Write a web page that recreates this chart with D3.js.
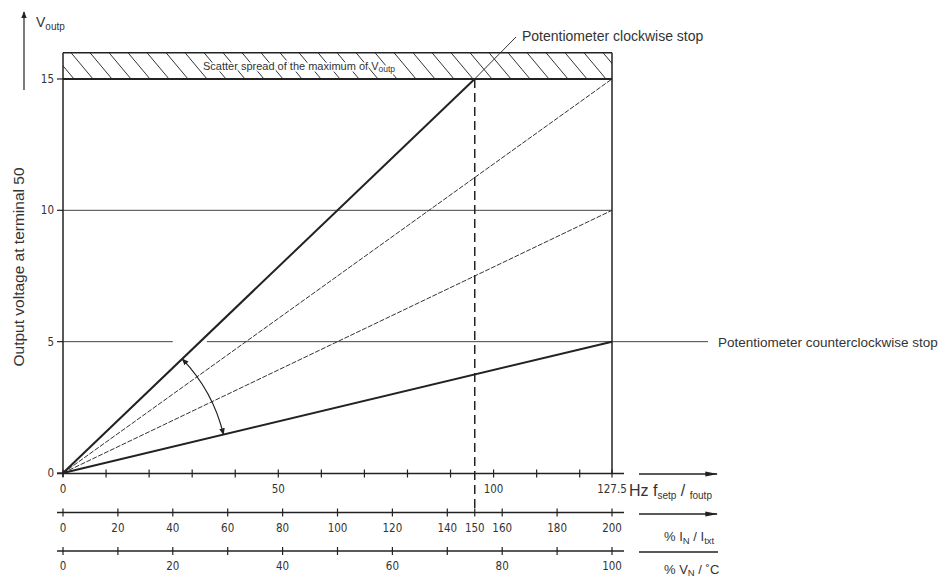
<!DOCTYPE html>
<html>
<head>
<meta charset="utf-8">
<script src="https://cdn.jsdelivr.net/npm/d3@7"></script>
<style>
  body { margin: 0; background: #fff; }
  svg { display: block; }
  .tick-label { font-family: "Liberation Sans Narrow", "DejaVu Sans Condensed", sans-serif; font-size: 11.5px; fill: #333; }
  .note { font-family: "Liberation Sans", Arial, sans-serif; fill: #333; }
</style>
</head>
<body>
<script>
// tick values
const hzTicks = [0, 10, 20, 30, 40, 50, 60, 70, 80, 90, 100, 110, 120, 127.5];
const hzLabels = [0, 50, 100, 127.5];
const curTicks = [0, 20, 40, 60, 80, 100, 120, 140, 150, 160, 180, 200];
const volTicks = [0, 10, 20, 30, 40, 50, 60, 70, 80, 90, 100];
const volLabels = [0, 20, 40, 60, 80, 100];
const yTicks = [0, 5, 10, 15];
const yGrid = [10];

// characteristic lines [Hz, V]
const cwStop = [[0, 0], [95.6, 15]];
const mid15 = [[0, 0], [127.5, 15]];
const mid10 = [[0, 0], [127.5, 10]];
const ccwStop = [[0, 0], [127.5, 5]];
const scatterBand = [15, 16];
const limitCurrent = 150;  // % I_N at dashed line
const gap5 = [25.5, 33.4]; // gap in 5 V line (Hz)

const width = 948, height = 579;
const x0 = 63, x1 = 612;

const x = d3.scaleLinear().domain([0, 127.5]).range([x0, x1]);
const xI = d3.scaleLinear().domain([0, 200]).range([x0, x1]);
const xV = d3.scaleLinear().domain([0, 100]).range([x0, x1]);
const y = d3.scaleLinear().domain([0, 16]).range([473, 52.7]);

const svg = d3.select('body').append('svg')
  .attr('width', width)
  .attr('height', height);

const defs = svg.append('defs');
defs.append('marker')
  .attr('id', 'head')
  .attr('viewBox', '0 0 10 10')
  .attr('refX', 9).attr('refY', 5)
  .attr('markerWidth', 7).attr('markerHeight', 7)
  .attr('markerUnits', 'userSpaceOnUse')
  .attr('orient', 'auto-start-reverse')
  .append('path').attr('d', 'M0,1 L10,5 L0,9 Z').attr('fill', '#222');
defs.append('marker')
  .attr('id', 'bighead')
  .attr('viewBox', '0 0 10 10')
  .attr('refX', 9).attr('refY', 5)
  .attr('markerWidth', 13).attr('markerHeight', 13)
  .attr('markerUnits', 'userSpaceOnUse')
  .attr('orient', 'auto')
  .append('path').attr('d', 'M0,3 L10,5 L0,7 Z').attr('fill', '#222');
defs.append('clipPath').attr('id', 'bandclip')
  .append('rect')
  .attr('x', x(0)).attr('y', y(scatterBand[1]))
  .attr('width', x(127.5) - x(0))
  .attr('height', y(scatterBand[0]) - y(scatterBand[1]));

const ink = '#222';

// scatter band hatching
const hatch = svg.append('g').attr('clip-path', 'url(#bandclip)');
hatch.selectAll('line')
  .data(d3.range(x(0) - 30, x(127.5) + 10, 19))
  .enter().append('line')
  .attr('x1', d => d).attr('y1', y(scatterBand[1]))
  .attr('x2', d => d + 22).attr('y2', y(scatterBand[0]))
  .attr('stroke', '#333').attr('stroke-width', 1);

svg.append('text')
  .attr('class', 'note')
  .attr('x', 203).attr('y', 70)
  .attr('font-size', 11)
  .attr('stroke', '#fff').attr('stroke-width', 3).attr('paint-order', 'stroke')
  .text('Scatter spread of the maximum of V')
  .append('tspan').attr('font-size', 8.5).attr('dy', 2).text('outp');

// band borders
svg.append('line')
  .attr('x1', x(0)).attr('x2', x(127.5))
  .attr('y1', y(scatterBand[1])).attr('y2', y(scatterBand[1]))
  .attr('stroke', ink).attr('stroke-width', 1.5);
svg.append('line')
  .attr('x1', x(0)).attr('x2', x(127.5))
  .attr('y1', y(scatterBand[0])).attr('y2', y(scatterBand[0]))
  .attr('stroke', ink).attr('stroke-width', 2);

// horizontal grid lines
svg.selectAll('.grid')
  .data(yGrid)
  .enter().append('line')
  .attr('class', 'grid')
  .attr('x1', x(0)).attr('x2', x(127.5))
  .attr('y1', d => y(d)).attr('y2', d => y(d))
  .attr('stroke', '#444').attr('stroke-width', 1);

// 5 V line with gap, then leader to the label
svg.append('line')
  .attr('x1', x(0)).attr('x2', x(gap5[0]))
  .attr('y1', y(5)).attr('y2', y(5))
  .attr('stroke', '#444').attr('stroke-width', 1);
svg.append('line')
  .attr('x1', x(gap5[1])).attr('x2', 708)
  .attr('y1', y(5)).attr('y2', y(5))
  .attr('stroke', '#444').attr('stroke-width', 1);

// right border and dashed limit line
svg.append('line')
  .attr('x1', x(127.5)).attr('x2', x(127.5))
  .attr('y1', y(16)).attr('y2', y(0))
  .attr('stroke', ink).attr('stroke-width', 1.5);
svg.append('line')
  .attr('x1', xI(limitCurrent)).attr('x2', xI(limitCurrent))
  .attr('y1', y(15)).attr('y2', 512)
  .attr('stroke', ink).attr('stroke-width', 1.5)
  .attr('stroke-dasharray', '9,5');

// characteristic lines
const line = d3.line().x(d => x(d[0])).y(d => y(d[1]));
svg.append('path').datum(mid15).attr('d', line)
  .attr('fill', 'none').attr('stroke', '#333').attr('stroke-width', 1).attr('stroke-dasharray', '5,1.5');
svg.append('path').datum(mid10).attr('d', line)
  .attr('fill', 'none').attr('stroke', '#333').attr('stroke-width', 1).attr('stroke-dasharray', '5,1.5');
svg.append('path').datum(cwStop).attr('d', line)
  .attr('fill', 'none').attr('stroke', ink).attr('stroke-width', 2);
svg.append('path').datum(ccwStop).attr('d', line)
  .attr('fill', 'none').attr('stroke', ink).attr('stroke-width', 2);

// leader to clockwise label
svg.append('line')
  .attr('x1', x(cwStop[1][0])).attr('y1', y(cwStop[1][1]))
  .attr('x2', 516).attr('y2', 37)
  .attr('stroke', '#333').attr('stroke-width', 1);

// adjustment arc between the two stops
const R = 165;
const ang = p => Math.atan2(y(p[1]) - y(0), x(p[0]) - x(0));
const aTop = ang(cwStop[1]), aBot = ang(ccwStop[1]);
const ax1 = x(0) + R * Math.cos(aTop), ay1 = y(0) + R * Math.sin(aTop);
const ax2 = x(0) + R * Math.cos(aBot), ay2 = y(0) + R * Math.sin(aBot);
svg.append('path')
  .attr('d', `M${ax1},${ay1} A${R},${R} 0 0 1 ${ax2},${ay2}`)
  .attr('fill', 'none').attr('stroke', ink).attr('stroke-width', 1.2)
  .attr('marker-start', 'url(#head)').attr('marker-end', 'url(#head)');

// y axis
svg.append('line')
  .attr('x1', x(0)).attr('x2', x(0))
  .attr('y1', y(16)).attr('y2', y(0) + 4)
  .attr('stroke', ink).attr('stroke-width', 1.5);
svg.selectAll('.ytick')
  .data(yTicks)
  .enter().append('line')
  .attr('x1', x(0) - 6).attr('x2', x(0))
  .attr('y1', d => y(d)).attr('y2', d => y(d))
  .attr('stroke', ink).attr('stroke-width', 1.2);
svg.selectAll('.ylab')
  .data(yTicks)
  .enter().append('text')
  .attr('class', 'tick-label')
  .attr('x', x(0) - 9).attr('y', d => y(d) + 4)
  .attr('text-anchor', 'end')
  .attr('font-size', 10)
  .text(d => d);

// V_outp arrow and label
svg.append('line')
  .attr('x1', 24).attr('y1', 90).attr('x2', 24).attr('y2', 12)
  .attr('stroke', ink).attr('stroke-width', 1.2)
  .attr('marker-end', 'url(#head)');
const vo = svg.append('text').attr('class', 'note')
  .attr('x', 36).attr('y', 27).attr('font-size', 14);
vo.append('tspan').text('V');
vo.append('tspan').attr('font-size', 10).attr('dy', 3).text('outp');

svg.append('text').attr('class', 'note')
  .attr('transform', 'translate(24,267) rotate(-90)')
  .attr('text-anchor', 'middle')
  .attr('font-size', 15.5)
  .attr('fill', '#555')
  .text('Output voltage at terminal 50');

// bottom scales
function bottomScale(scale, ticks, labels, yPos, labY) {
  svg.append('line')
    .attr('x1', scale.range()[0] - 6).attr('x2', 624)
    .attr('y1', yPos).attr('y2', yPos)
    .attr('stroke', ink).attr('stroke-width', 1.5);
  svg.selectAll(null)
    .data(ticks)
    .enter().append('line')
    .attr('x1', d => scale(d)).attr('x2', d => scale(d))
    .attr('y1', yPos - 4).attr('y2', yPos + 4)
    .attr('stroke', ink).attr('stroke-width', 1.2);
  svg.selectAll(null)
    .data(labels)
    .enter().append('text')
    .attr('class', 'tick-label')
    .attr('x', d => scale(d)).attr('y', labY)
    .attr('text-anchor', 'middle')
    .text(d => d);
}
bottomScale(x, hzTicks, hzLabels, 473.5, 493);
bottomScale(xI, curTicks, curTicks, 512.5, 532);
bottomScale(xV, volTicks, volLabels, 551, 570);

// unit arrows
svg.append('line').attr('x1', 639).attr('x2', 717).attr('y1', 474).attr('y2', 474)
  .attr('stroke', ink).attr('stroke-width', 1.5).attr('marker-end', 'url(#bighead)');
svg.append('line').attr('x1', 639).attr('x2', 717).attr('y1', 514).attr('y2', 514)
  .attr('stroke', ink).attr('stroke-width', 1.5).attr('marker-end', 'url(#bighead)');
svg.append('line').attr('x1', 639).attr('x2', 718).attr('y1', 552).attr('y2', 552)
  .attr('stroke', ink).attr('stroke-width', 1.5);

// unit labels
const hz = svg.append('text').attr('class', 'note').attr('x', 629).attr('y', 496).attr('font-size', 16);
hz.append('tspan').text('Hz f');
hz.append('tspan').attr('font-size', 10).attr('dy', 3).text('setp');
hz.append('tspan').attr('font-size', 16).attr('dy', -3).text(' / ');
hz.append('tspan').attr('font-size', 10).attr('dy', 3).text('foutp');

const cu = svg.append('text').attr('class', 'note').attr('x', 664).attr('y', 541).attr('font-size', 13);
cu.append('tspan').text('% I');
cu.append('tspan').attr('font-size', 9.5).attr('dy', 3).text('N');
cu.append('tspan').attr('dy', -3).text(' / I');
cu.append('tspan').attr('font-size', 9.5).attr('dy', 3).text('txt');

const vn = svg.append('text').attr('class', 'note').attr('x', 664).attr('y', 574).attr('font-size', 13);
vn.append('tspan').text('% V');
vn.append('tspan').attr('font-size', 9.5).attr('dy', 2).text('N');
vn.append('tspan').attr('dy', -2).text(' / ˚C');

// stop labels
svg.append('text').attr('class', 'note')
  .attr('x', 522).attr('y', 41).attr('font-size', 14)
  .text('Potentiometer clockwise stop');
svg.append('text').attr('class', 'note')
  .attr('x', 718).attr('y', 347).attr('font-size', 13.5)
  .text('Potentiometer counterclockwise stop');
</script>
</body>
</html>
